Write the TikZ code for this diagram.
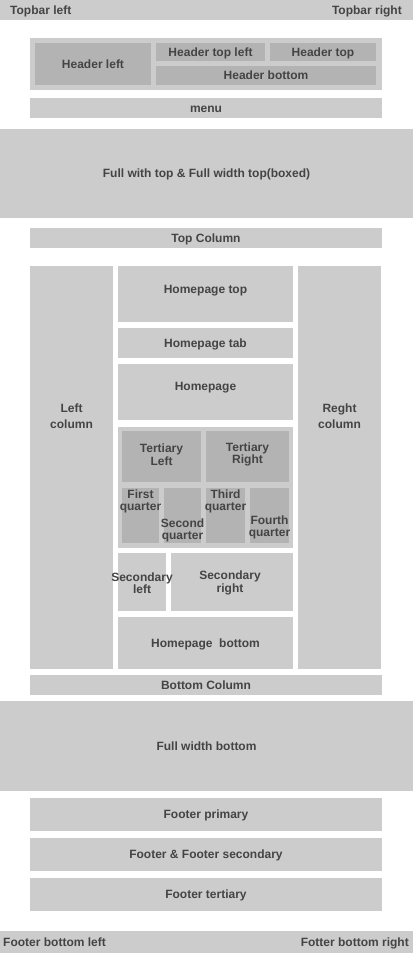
\documentclass[tikz,border=0pt]{standalone}
\usepackage{fontspec}
\setmainfont{Liberation Sans}
\usepackage{tikz}
\usetikzlibrary{positioning}
\usepackage{xcolor}
\definecolor{pane-gray}{HTML}{CCCCCC}
\definecolor{sub-gray}{HTML}{B3B3B3}
\definecolor{label-gray}{HTML}{444444}

\tikzset{
  pane/.style={fill=pane-gray, inner sep=0pt, outer sep=0pt, anchor=north west},
  subpane/.style={pane, fill=sub-gray},
  stackcaption/.style={font=\bfseries\fontsize{12}{12.5}\selectfont, text=label-gray,
                       align=center, inner sep=0pt},
  caption/.style={stackcaption, text height=10pt, text depth=1.5pt}
}

\begin{document}
\begin{tikzpicture}[x=1pt, y=-1pt]
    \useasboundingbox (0,0) rectangle (413,953);
    % top bar and header
    \node[pane, minimum width=413pt, minimum height=20pt] (topbar) at (0,0) {};
    \node[pane, minimum width=352pt, minimum height=52pt] (header) at (30,38) {};
    \node[subpane, minimum width=116pt, minimum height=42pt] (header-left) at (35,43) {};
    \node[subpane, minimum width=109pt, minimum height=18pt] (header-topleft) at (156,43) {};
    \node[subpane, minimum width=106pt, minimum height=18pt] (header-top) at (270,43) {};
    \node[subpane, minimum width=220pt, minimum height=19pt] (header-bottom) at (156,66) {};
    \node[pane, minimum width=352pt, minimum height=20pt] (menu) at (30,98) {};
    \node[pane, minimum width=413pt, minimum height=89pt] (full-top) at (0,129) {};
    \node[pane, minimum width=352pt, minimum height=20pt] (top-col) at (30,228) {};
    % columns
    \node[pane, minimum width=83pt, minimum height=403pt] (left-col) at (30,266) {};
    \node[pane, minimum width=83pt, minimum height=403pt] (right-col) at (298,266) {};
    \node[pane, minimum width=175pt, minimum height=56pt] (hp-top) at (118,266) {};
    \node[pane, minimum width=175pt, minimum height=30pt] (hp-tab) at (118,328) {};
    \node[pane, minimum width=175pt, minimum height=56pt] (hp) at (118,364) {};
    % tertiary block
    \node[pane, minimum width=175pt, minimum height=121pt] (tert) at (118,427) {};
    \node[subpane, minimum width=79pt, minimum height=51pt] (tert-left) at (122,431) {};
    \node[subpane, minimum width=83pt, minimum height=51pt] (tert-right) at (206,431) {};
    \node[subpane, minimum width=37pt, minimum height=55pt] (q-first) at (122,488) {};
    \node[subpane, minimum width=37pt, minimum height=55pt] (q-second) at (164,488) {};
    \node[subpane, minimum width=39pt, minimum height=55pt] (q-third) at (206,488) {};
    \node[subpane, minimum width=39pt, minimum height=55pt] (q-fourth) at (250,488) {};
    \node[pane, minimum width=48pt, minimum height=58pt] (sec-left) at (118,553) {};
    \node[pane, minimum width=122pt, minimum height=58pt] (sec-right) at (171,553) {};
    \node[pane, minimum width=175pt, minimum height=52pt] (hp-bottom) at (118,617) {};
    % bottom and footer
    \node[pane, minimum width=352pt, minimum height=20pt] (bottom-col) at (30,675) {};
    \node[pane, minimum width=413pt, minimum height=90pt] (full-bottom) at (0,701) {};
    \node[pane, minimum width=352pt, minimum height=33pt] (footer-prim) at (30,798) {};
    \node[pane, minimum width=352pt, minimum height=33pt] (footer-sec) at (30,838) {};
    \node[pane, minimum width=352pt, minimum height=33pt] (footer-tert) at (30,878) {};
    \node[pane, minimum width=413pt, minimum height=22pt] (footer-bar) at (0,931) {};

    % captions
    \node[caption, anchor=west] (t-topbar-l) at ([xshift=10pt]topbar.west) {Topbar left};
    \node[caption, anchor=east] (t-topbar-r) at ([xshift=-11pt]topbar.east) {Topbar right};
    \node[caption] (t-header-left) at (header-left.center) {Header left};
    \node[caption] (t-header-topleft) at (header-topleft.center) {Header top left};
    \node[caption] (t-header-top) at (header-top.center) {Header top};
    \node[caption] (t-header-bottom) at (header-bottom.center) {Header bottom};
    \node[caption] (t-menu) at (menu.center) {menu};
    \node[caption] (t-full-top) at (full-top.center) {Full with top \& Full width top(boxed)};
    \node[caption] (t-top-col) at (top-col.center) {Top Column};
    \node[stackcaption] (t-left-col) at ([yshift=51pt]left-col.center) {Left\\[3.5pt]column};
    \node[stackcaption] (t-right-col) at ([yshift=51pt]right-col.center) {Reght\\[3.5pt]column};
    \node[caption] (t-hp-top) at ([yshift=5pt]hp-top.center) {Homepage top};
    \node[caption] (t-hp-tab) at (hp-tab.center) {Homepage tab};
    \node[caption] (t-hp) at ([yshift=6pt]hp.center) {Homepage};
    \node[stackcaption] (t-tert-left) at ([yshift=2pt]tert-left.center) {Tertiary\\Left};
    \node[stackcaption] (t-tert-right) at ([yshift=2pt]tert-right.center) {Tertiary\\Right};
    \node[stackcaption] (t-q-first) at ([yshift=14pt]q-first.center) {First\\quarter};
    \node[stackcaption] (t-q-second) at ([yshift=-15pt]q-second.center) {Second\\quarter};
    \node[stackcaption] (t-q-third) at ([yshift=14pt]q-third.center) {Third\\quarter};
    \node[stackcaption] (t-q-fourth) at ([yshift=-12pt]q-fourth.center) {Fourth\\quarter};
    \node[stackcaption] (t-sec-left) at ([yshift=-1pt]sec-left.center) {Secondary\\left};
    \node[stackcaption] (t-sec-right) at ([xshift=-2pt, yshift=-1pt]sec-right.center) {Secondary\\right};
    \node[caption] (t-hp-bottom) at (hp-bottom.center) {Homepage\ \ bottom};
    \node[caption] (t-bottom-col) at (bottom-col.center) {Bottom Column};
    \node[caption] (t-full-bottom) at (full-bottom.center) {Full width bottom};
    \node[caption] (t-footer-prim) at (footer-prim.center) {Footer primary};
    \node[caption] (t-footer-sec) at (footer-sec.center) {Footer \& Footer secondary};
    \node[caption] (t-footer-tert) at (footer-tert.center) {Footer tertiary};
    \node[caption, anchor=west] (t-footer-bar-l) at ([xshift=3pt]footer-bar.west) {Footer bottom left};
    \node[caption, anchor=east] (t-footer-bar-r) at ([xshift=-4pt]footer-bar.east) {Fotter bottom right};
  \end{tikzpicture}
\end{document}
